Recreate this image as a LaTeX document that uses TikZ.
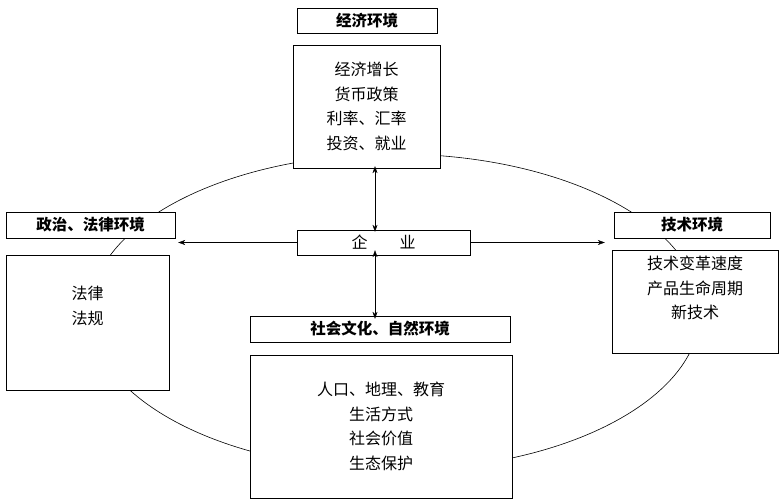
\documentclass[tikz,border=0pt]{standalone}
\usepackage{fontspec}
\setmainfont{Noto Sans CJK SC}
\usetikzlibrary{arrows.meta, positioning}

\begin{document}
\begin{tikzpicture}[
    x=1pt, y=-1pt,
    box/.style={draw, rectangle, inner sep=0pt, align=center,
      font=\fontsize{16}{24.5}\selectfont},
    title/.style={box, font=\fontsize{15.5}{18}\selectfont\bfseries},
    >={Stealth[length=7pt, width=5pt]}
  ]
    \useasboundingbox (0,0) rectangle (781,500);

    % ring
    \draw[line width=0.6pt] (395,312) ellipse [x radius=305pt, y radius=158pt];

    % top: economy
    \node (ecot) [title, minimum width=140pt, minimum height=25pt] at (367,20.5) {经济环境};
    \node (ecob) [box, fill=white, minimum width=147pt, minimum height=123pt] at (366.5,106.5) {经济增长\\货币政策\\利率、汇率\\投资、就业};

    % centre
    \node (firm) [box, fill=white, minimum width=173pt, minimum height=25pt] at (383.5,242.5) {企\qquad 业};
    \coordinate (axis) at (375,0);

    % left: politics and law
    \node (polt) [title, fill=white, minimum width=169pt, minimum height=26pt] at (90.5,225) {政治、法律环境};
    \node (polb) [box, fill=white, minimum width=163pt, minimum height=135pt] at (87.5,322.5) {法律\\法规\\[10pt]};

    % right: technology
    \node (tect) [title, fill=white, minimum width=156pt, minimum height=26pt] at (692,225) {技术环境};
    \node (tecb) [box, fill=white, minimum width=166pt, minimum height=103pt] at (695,301.5) {技术变革速度\\产品生命周期\\新技术\\[4pt]};

    % bottom: society and nature
    \node (soct) [title, fill=white, minimum width=260pt, minimum height=26pt] at (380,329) {社会文化、自然环境};
    \node (socb) [box, fill=white, minimum width=262pt, minimum height=143pt] at (381,426.5) {人口、地理、教育\\生活方式\\社会价值\\生态保护};

    % arrows
    \draw[->] (firm.west) -- ([xshift=3pt]polt.east |- firm.west);
    \draw[->] (firm.east) -- ([xshift=-9pt]tect.west |- firm.east);
    \draw[<->] ([yshift=-2pt]firm.north -| axis) -- ([yshift=2pt]ecob.south -| axis);
    \draw[<->] ([yshift=5pt]firm.south -| axis) -- ([yshift=-3pt]soct.north -| axis);
\end{tikzpicture}
\end{document}
